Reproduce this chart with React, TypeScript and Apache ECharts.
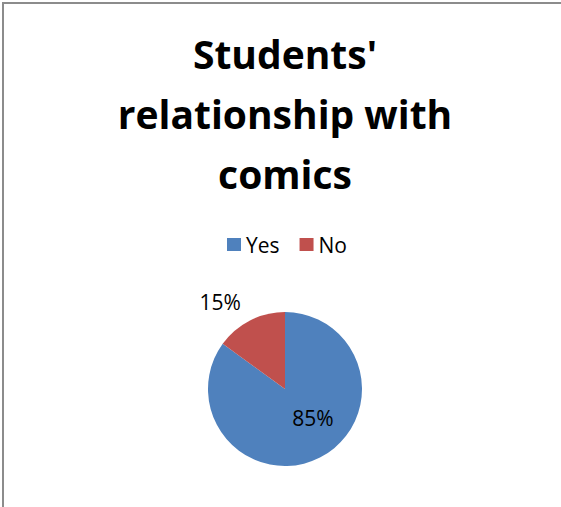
import React, { useEffect, useRef } from "react";
import * as echarts from "echarts";

const titleText = "Students'\nrelationship with\ncomics";
const categories = ["Yes", "No"];
const values = [85, 15];
const colors = ["#4F81BD", "#C0504D"];
const FONT = "Open Sans, Noto Sans, sans-serif";

export default function App() {
  const ref = useRef<HTMLDivElement>(null);
  useEffect(() => {
    if (!ref.current) return;
    const chart = echarts.init(ref.current, null, { renderer: "svg" });
    chart.setOption({
      animation: false,
      backgroundColor: "#ffffff",
      title: {
        text: titleText,
        left: 285,
        top: 23,
        padding: 0,
        textAlign: "center",
        textStyle: {
          fontFamily: FONT,
          fontWeight: "bold",
          fontSize: 39,
          lineHeight: 60,
          color: "#000000",
        },
      },
      legend: {
        data: categories,
        left: 222,
        top: 229,
        icon: "rect",
        itemWidth: 14,
        itemHeight: 13,
        itemGap: 20,
        textStyle: { fontFamily: FONT, fontSize: 21, color: "#000000" },
      },
      graphic: [
        {
          type: "rect",
          shape: { x: 3, y: 3, width: 700, height: 700 },
          style: { fill: "none", stroke: "#8c8c8c", lineWidth: 2 },
          silent: true,
        },
      ],
      series: [
        {
          type: "pie",
          center: [285, 389],
          radius: 77,
          startAngle: 90,
          clockwise: true,
          data: categories.map((c, i) => ({
            name: c,
            value: values[i],
            itemStyle: { color: colors[i] },
            label: {
              show: true,
              position: "inside",
              offset: i === 0 ? [9, -8] : [-46, -50],
            },
          })),
          label: {
            formatter: "{c}%",
            fontFamily: FONT,
            fontSize: 21,
            color: "#000000",
          },
          labelLine: { show: false },
          emphasis: { disabled: true },
        },
      ],
    });
    return () => chart.dispose();
  }, []);
  return (
    <div
      ref={ref}
      style={{ position: "fixed", left: 0, top: 0, width: 561, height: 507 }}
    />
  );
}
